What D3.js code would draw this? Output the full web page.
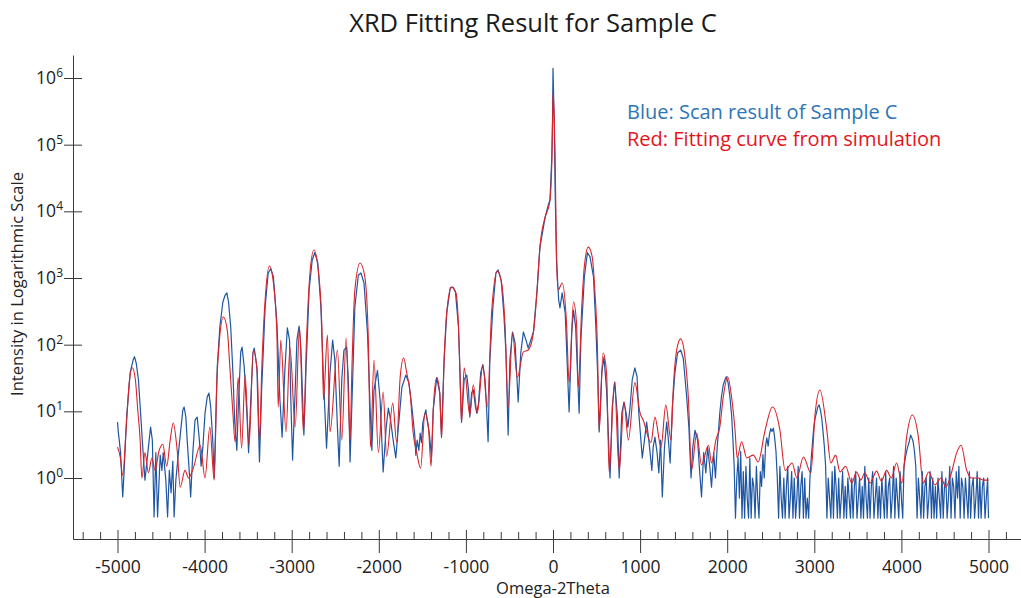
<!DOCTYPE html>
<html>
<head>
<meta charset="utf-8">
<script src="https://cdn.jsdelivr.net/npm/d3@7"></script>
<style>
  body { margin: 0; background: #fff; }
  svg { display: block; font-family: "Open Sans", "DejaVu Sans", sans-serif; }
</style>
</head>
<body>
<svg id="vis-svg"></svg>
<script>
// Texts
const titleText = "XRD Fitting Result for Sample C";
const xLabelText = "Omega-2Theta";
const yLabelText = "Intensity in Logarithmic Scale";
const legendLines = ["Blue: Scan result of Sample C", "Red: Fitting curve from simulation"];

// Tick labels
const xTicks = [-5000, -4000, -3000, -2000, -1000, 0, 1000, 2000, 3000, 4000, 5000];
const yTickExponents = [0, 1, 2, 3, 4, 5, 6];

// Red: fitting curve from simulation, [omega-2theta, intensity]
const fitCurve = [
  [-5000, 2.9], [-4970, 2.1], [-4940, 1.1], [-4900, 5.8], [-4865, 27], [-4830, 45], [-4795, 30],
  [-4770, 11.6], [-4740, 3.7], [-4720, 1.0], [-4685, 2.4], [-4645, 1.2], [-4605, 2.0], [-4570, 1.3],
  [-4525, 2.5], [-4480, 3.2], [-4435, 1.5], [-4395, 3.7], [-4360, 6.7], [-4315, 2.6], [-4280, 0.73],
  [-4225, 1.3], [-4185, 1.0], [-4130, 1.4], [-4050, 3.1], [-3995, 1.0], [-3940, 5.8], [-3890, 0.93],
  [-3860, 27], [-3830, 117], [-3785, 260], [-3740, 166], [-3710, 46], [-3675, 9.4], [-3650, 3.5],
  [-3615, 32], [-3575, 2.8], [-3535, 35], [-3490, 3.1], [-3440, 83], [-3395, 38], [-3370, 3.4],
  [-3345, 38], [-3305, 470], [-3255, 1510], [-3210, 840], [-3170, 150], [-3155, 11.6], [-3125, 117],
  [-3065, 4.9], [-3020, 92], [-2960, 5.8], [-2910, 184], [-2865, 4.7], [-2830, 117], [-2790, 1190],
  [-2745, 2630], [-2695, 1320], [-2655, 211], [-2635, 15], [-2590, 140], [-2560, 4.9], [-2475, 83],
  [-2425, 3.7], [-2375, 126], [-2330, 3.7], [-2310, 38], [-2275, 660], [-2215, 1680], [-2160, 1035],
  [-2120, 117], [-2095, 2.9], [-2055, 59], [-2005, 2.4], [-1950, 19.5], [-1910, 2.1], [-1840, 13.3],
  [-1795, 3.4], [-1755, 32], [-1715, 63], [-1680, 38], [-1640, 18.8], [-1605, 4.7], [-1565, 2.4],
  [-1520, 1.4], [-1470, 9.4], [-1430, 5.8], [-1400, 1.5], [-1375, 10.5], [-1335, 32], [-1300, 18.8],
  [-1280, 4.0], [-1250, 59], [-1220, 300], [-1165, 730], [-1115, 600], [-1085, 184], [-1070, 46],
  [-1050, 6.7], [-1020, 45], [-955, 8.8], [-915, 25], [-870, 9.4], [-805, 50], [-755, 11.6],
  [-705, 300], [-640, 1270], [-590, 840], [-550, 184], [-515, 11.6], [-465, 150], [-410, 32],
  [-340, 78], [-285, 83], [-225, 150], [-185, 600], [-150, 2900], [-90, 8200], [-40, 13300],
  [-25, 21000], [-10, 83000], [0, 596000], [15, 234000], [25, 59000], [35, 5800], [45, 1320],
  [60, 660], [105, 840], [155, 211], [185, 27], [235, 437], [270, 211], [290, 23], [330, 367],
  [360, 1510], [405, 2900], [450, 2070], [480, 660], [510, 92], [530, 5.2], [575, 75], [615, 38],
  [645, 1.2], [705, 27.5], [760, 1.3], [815, 13.8], [865, 3.7], [940, 27], [1000, 9.4], [1035, 7.4],
  [1125, 3.4], [1170, 8.2], [1240, 2.9], [1295, 12.4], [1355, 3.7], [1380, 21], [1420, 83],
  [1465, 122], [1515, 65], [1555, 15], [1590, 1.3], [1650, 4.7], [1705, 1.57], [1785, 3.1],
  [1820, 1.68], [1870, 3.7], [1915, 5.8], [1955, 16.4], [2005, 33], [2050, 16.4], [2090, 5.2],
  [2115, 2.0], [2165, 3.5], [2225, 2.0], [2300, 2.2], [2355, 1.74], [2435, 5.2], [2520, 11.6],
  [2605, 5.2], [2665, 1.3], [2745, 1.68], [2800, 1.0], [2875, 2.07], [2960, 1.19], [3010, 9.4],
  [3065, 20.9], [3140, 5.8], [3190, 1.68], [3245, 2.2], [3295, 1.23], [3360, 1.5], [3430, 0.84],
  [3485, 1.23], [3535, 0.93], [3580, 1.2], [3640, 0.84], [3715, 1.27], [3770, 0.9], [3830, 1.3],
  [3885, 1.0], [3945, 1.68], [4005, 0.84], [4060, 4.1], [4125, 8.8], [4195, 4.1], [4250, 0.84],
  [4315, 1.23], [4385, 0.79], [4455, 1.0], [4510, 0.73], [4575, 1.2], [4635, 2.4], [4685, 3.1],
  [4750, 1.3], [4805, 1.0], [4880, 1.0], [4940, 0.93], [5000, 0.93]
];

// Blue: scan result of Sample C, [omega-2theta, intensity]
const scanData = [
  [-5000, 6.9], [-4990, 4.8], [-4980, 3.7], [-4965, 2.4], [-4940, 0.52], [-4925, 1.19], [-4895, 8.2],
  [-4855, 38], [-4820, 59], [-4805, 66], [-4785, 53], [-4760, 30], [-4735, 9.4], [-4710, 2.9],
  [-4685, 0.93], [-4645, 2.9], [-4620, 5.8], [-4600, 3.7], [-4580, 0.26], [-4560, 2.4], [-4540, 0.26],
  [-4510, 2.2], [-4490, 1.3], [-4475, 2.4], [-4445, 0.93], [-4425, 0.26], [-4405, 1.3], [-4385, 0.6],
  [-4365, 1.8], [-4350, 0.26], [-4330, 0.93], [-4300, 2.4], [-4275, 5.0], [-4250, 10.5], [-4235, 11.6],
  [-4215, 8.2], [-4200, 3.7], [-4175, 1.19], [-4160, 0.52], [-4135, 2.4], [-4110, 7.4], [-4085, 8.2],
  [-4060, 3.7], [-4040, 1.5], [-4020, 2.9], [-3995, 9.4], [-3970, 16.4], [-3950, 18.8], [-3930, 11.6],
  [-3905, 3.4], [-3890, 1.0], [-3875, 4.9], [-3855, 46], [-3825, 184], [-3790, 437], [-3765, 550],
  [-3745, 600], [-3725, 437], [-3700, 184], [-3675, 38], [-3655, 7.4], [-3630, 2.6], [-3610, 14.8],
  [-3585, 78], [-3570, 92], [-3545, 46], [-3515, 9.4], [-3495, 2.4], [-3470, 14.8], [-3445, 75],
  [-3430, 89], [-3400, 46], [-3370, 1.74], [-3345, 21], [-3305, 367], [-3270, 1190], [-3240, 1370],
  [-3210, 1035], [-3170, 211], [-3135, 14.8], [-3110, 4.1], [-3080, 38], [-3050, 178], [-3025, 117],
  [-3010, 14.8], [-2990, 1.86], [-2960, 21], [-2940, 117], [-2915, 190], [-2895, 92], [-2875, 16.4],
  [-2860, 4.4], [-2835, 46], [-2800, 660], [-2765, 1850], [-2735, 2400], [-2700, 1680], [-2665, 367],
  [-2635, 30], [-2600, 2.8], [-2560, 38], [-2530, 117], [-2505, 59], [-2475, 5.8], [-2455, 1.5],
  [-2425, 30], [-2400, 83], [-2370, 92], [-2350, 30], [-2330, 1.74], [-2300, 30], [-2275, 367],
  [-2235, 1100], [-2205, 1190], [-2170, 840], [-2130, 150], [-2100, 11.6], [-2080, 2.6], [-2055, 21],
  [-2015, 41], [-1985, 14.8], [-1950, 1.23], [-1915, 5.8], [-1890, 11.2], [-1865, 7.4], [-1835, 3.7],
  [-1805, 2.0], [-1775, 5.8], [-1735, 23], [-1690, 35], [-1655, 27], [-1620, 11.6], [-1585, 4.1],
  [-1575, 2.2], [-1560, 3.7], [-1540, 2.6], [-1525, 4.7], [-1510, 3.4], [-1495, 6.7], [-1480, 8.2],
  [-1460, 10.5], [-1445, 7.4], [-1420, 4.7], [-1395, 2.07], [-1375, 10.5], [-1335, 32], [-1300, 18.8],
  [-1280, 4.1], [-1250, 59], [-1220, 300], [-1180, 710], [-1150, 730], [-1120, 620], [-1085, 184],
  [-1070, 46], [-1050, 6.9], [-1020, 30], [-990, 35], [-970, 21], [-955, 8.2], [-935, 18.8],
  [-915, 21], [-890, 11.6], [-875, 9.4], [-855, 13.3], [-830, 38], [-805, 50], [-780, 30],
  [-760, 9.4], [-745, 3.5], [-725, 59], [-690, 367], [-655, 1190], [-630, 1320], [-595, 930],
  [-565, 300], [-540, 75], [-515, 4.4], [-495, 59], [-465, 155], [-435, 105], [-400, 13.8],
  [-370, 75], [-340, 155], [-310, 117], [-285, 89], [-255, 117], [-225, 155], [-185, 600],
  [-150, 2900], [-90, 8200], [-55, 12400], [-35, 14800], [-15, 59000], [-5, 234000], [0, 1400000],
  [15, 186000], [25, 19000], [40, 1860], [65, 470], [80, 355], [105, 600], [140, 300], [185, 9.8],
  [215, 150], [235, 330], [260, 184], [300, 9.4], [320, 117], [360, 1035], [395, 2400], [425, 2070],
  [465, 1035], [490, 211], [515, 30], [530, 4.9], [560, 38], [585, 65], [615, 21], [655, 1.0],
  [680, 11.6], [710, 27.5], [740, 8.2], [760, 1.0], [790, 9.4], [815, 13.8], [840, 9.4], [860, 5.8],
  [885, 11.6], [910, 30], [940, 45], [965, 33], [985, 9.4], [1025, 2.0], [1050, 3.7], [1075, 6.9],
  [1100, 3.7], [1135, 1.3], [1150, 2.9], [1170, 4.1], [1195, 2.4], [1215, 1.19], [1235, 3.7],
  [1255, 0.52], [1280, 2.9], [1305, 6.9], [1325, 3.7], [1345, 1.68], [1370, 11.6], [1400, 38],
  [1430, 75], [1465, 83], [1495, 63], [1535, 16.4], [1560, 5.8], [1585, 1.0], [1605, 2.9],
  [1630, 5.2], [1660, 3.7], [1685, 1.19], [1705, 0.52], [1730, 2.4], [1755, 1.19], [1775, 2.9],
  [1800, 1.46], [1820, 0.73], [1845, 2.4], [1865, 1.0], [1885, 2.9], [1900, 5.0], [1915, 9.4],
  [1935, 17], [1955, 25], [1975, 30], [1990, 33], [2010, 27], [2030, 17], [2050, 9], [2065, 4],
  [2080, 1.5], [2095, 0.25], [2110, 1.0], [2125, 2.0], [2140, 0.5], [2155, 2.5], [2170, 0.25],
  [2185, 1.25], [2200, 0.25], [2215, 1.5], [2230, 0.5], [2245, 0.25], [2260, 2.0], [2275, 0.25],
  [2290, 1.0], [2305, 0.75], [2320, 0.25], [2335, 1.5], [2350, 0.5], [2365, 0.25], [2380, 1.25],
  [2395, 0.75], [2410, 2.25], [2425, 1.0], [2440, 3.0], [2455, 4.0], [2470, 3.0], [2485, 4.5],
  [2500, 5.5], [2515, 5.0], [2530, 5.6], [2545, 4.0], [2560, 2.5], [2575, 1.0], [2590, 0.25],
  [2605, 1.5], [2620, 0.5], [2635, 0.25], [2650, 1.0], [2665, 0.25], [2680, 0.75], [2695, 1.5],
  [2710, 0.25], [2725, 0.5], [2740, 1.25], [2755, 0.25], [2770, 1.0], [2785, 0.25], [2800, 0.5],
  [2815, 1.5], [2830, 0.25], [2845, 0.75], [2860, 1.25], [2875, 0.25], [2890, 1.0], [2905, 0.25],
  [2920, 0.5], [2935, 0.25], [2950, 1.0], [2965, 2.0], [2980, 3.5], [2995, 6.0], [3010, 8.0],
  [3025, 9.5], [3040, 11.6], [3055, 12.5], [3070, 10.5], [3085, 8.0], [3100, 5.0], [3115, 3.0],
  [3130, 1.5], [3145, 0.25], [3160, 1.0], [3175, 0.5], [3190, 0.25], [3205, 1.25], [3220, 0.25],
  [3235, 1.5], [3250, 0.75], [3265, 0.25], [3280, 1.0], [3295, 0.25], [3310, 0.5], [3325, 1.25],
  [3340, 0.25], [3355, 0.75], [3370, 0.25], [3385, 1.0], [3400, 0.5], [3415, 0.25], [3430, 1.0],
  [3445, 0.25], [3460, 0.75], [3475, 1.25], [3490, 0.25], [3505, 0.5], [3520, 1.0], [3535, 0.25],
  [3550, 0.75], [3565, 0.25], [3580, 1.5], [3595, 0.5], [3610, 0.25], [3625, 1.0], [3640, 0.25],
  [3655, 0.75], [3670, 1.25], [3685, 0.25], [3700, 0.5], [3715, 1.0], [3730, 0.25], [3745, 0.75],
  [3760, 0.25], [3775, 1.0], [3790, 0.5], [3805, 0.25], [3820, 1.25], [3835, 0.25], [3850, 0.75],
  [3865, 1.0], [3880, 0.25], [3895, 0.5], [3910, 1.5], [3925, 0.25], [3940, 1.0], [3955, 0.5],
  [3970, 0.25], [3985, 1.25], [4000, 0.5], [4015, 0.25], [4030, 1.5], [4045, 2.0], [4060, 2.5],
  [4075, 3.0], [4090, 3.5], [4105, 4.4], [4120, 4.0], [4135, 3.5], [4150, 2.5], [4165, 1.5],
  [4180, 0.25], [4195, 1.0], [4210, 0.5], [4225, 0.25], [4240, 1.25], [4255, 0.25], [4270, 0.75],
  [4285, 1.0], [4300, 0.25], [4315, 0.5], [4330, 1.25], [4345, 0.25], [4360, 1.0], [4375, 0.25],
  [4390, 0.75], [4405, 0.25], [4420, 1.0], [4435, 0.5], [4450, 0.25], [4465, 1.25], [4480, 0.25],
  [4495, 0.75], [4510, 1.0], [4525, 0.25], [4540, 0.5], [4555, 1.5], [4570, 0.25], [4585, 1.0],
  [4600, 0.75], [4615, 0.25], [4630, 1.25], [4645, 0.5], [4660, 1.5], [4675, 0.25], [4690, 1.0],
  [4705, 0.75], [4720, 0.25], [4735, 1.0], [4750, 0.5], [4765, 0.25], [4780, 1.25], [4795, 0.25],
  [4810, 0.75], [4825, 1.0], [4840, 0.25], [4855, 0.5], [4870, 1.25], [4885, 0.25], [4900, 1.0],
  [4915, 0.25], [4930, 0.75], [4945, 1.0], [4960, 0.25], [4975, 0.5], [4990, 1.0], [5000, 0.25]
];

function chart() {
    let width = 1021,
        height = 598,
        axisLeftX = 73,
        axisRightX = 1021,
        axisTopY = 55,
        axisBottomY = 539;

    function chart(selector) {
        const svg = d3.select(selector)
            .attr("width", width)
            .attr("height", height);

        svg.append("rect")
            .attr("width", width)
            .attr("height", height)
            .attr("fill", "#fff");

        // Set up scales (-5000..5000 and 10^0..10^6 pinned to the reference ticks, then stretched to the axis ends)
        const x = d3.scaleLinear().domain([-5000, 5000]).range([117.5, 988.5]);
        x.domain([x.invert(axisLeftX), x.invert(axisRightX)]).range([axisLeftX, axisRightX]);

        const y = d3.scaleLog().domain([1, 1e6]).range([478, 78]);
        y.domain([y.invert(axisBottomY), y.invert(axisTopY)]).range([axisBottomY, axisTopY]);

        const axisColor = "#3a3a3a";

        // Minor x ticks (above the axis)
        const minorTicks = d3.range(-5400, 5401, 200).filter(v => v % 1000 !== 0);
        svg.append("g")
            .attr("transform", "translate(0," + axisBottomY + ")")
            .call(d3.axisBottom(x).tickValues(minorTicks).tickSize(-7).tickFormat(""))
            .call(g => g.select(".domain").remove())
            .call(g => g.selectAll(".tick line").attr("stroke", axisColor));

        // Major x ticks with labels
        svg.append("g")
            .attr("transform", "translate(0," + axisBottomY + ")")
            .call(d3.axisBottom(x).tickValues(xTicks).tickSize(14).tickSizeOuter(0).tickFormat(d => String(d)))
            .call(g => g.select(".domain").attr("stroke", axisColor))
            .call(g => g.selectAll(".tick line").attr("y1", -9).attr("stroke", axisColor))
            .call(g => g.selectAll(".tick text")
                .attr("y", 34)
                .attr("dy", null)
                .attr("fill", "#222")
                .style("font-size", "17.5px")
                .style("font-family", "'Open Sans', sans-serif"));

        // y Axis
        svg.append("g")
            .attr("transform", "translate(" + axisLeftX + ",0)")
            .call(d3.axisLeft(y).tickValues(yTickExponents.map(e => Math.pow(10, e))).tickSize(9).tickSizeOuter(0).tickFormat(""))
            .call(g => g.select(".domain").attr("stroke", axisColor))
            .call(g => g.selectAll(".tick line").attr("x1", 9).attr("stroke", axisColor));

        const yLabels = svg.append("g")
            .selectAll("text")
            .data(yTickExponents)
          .enter().append("text")
            .attr("x", 63)
            .attr("y", d => y(Math.pow(10, d)) + 6)
            .attr("text-anchor", "end")
            .attr("fill", "#222")
            .style("font-size", "17.5px");

        yLabels.append("tspan").text("10");
        yLabels.append("tspan")
            .attr("dy", -7)
            .style("font-size", "12px")
            .text(d => d);

        // Curves
        const line = d3.line()
            .x(d => x(d[0]))
            .y(d => y(d[1]));

        svg.append("path")
            .datum(scanData)
            .attr("fill", "none")
            .attr("stroke", "#1f56a3")
            .attr("stroke-width", 1.2)
            .attr("stroke-linejoin", "round")
            .attr("d", line.curve(d3.curveLinear));

        svg.append("path")
            .datum(fitCurve)
            .attr("fill", "none")
            .attr("stroke", "#d8232a")
            .attr("stroke-width", 1.1)
            .attr("d", line.curve(d3.curveMonotoneX));

        // Title
        svg.append("text")
            .attr("x", 533)
            .attr("y", 32)
            .attr("text-anchor", "middle")
            .attr("fill", "#1a1a1a")
            .style("font-size", "25.5px")
            .text(titleText);

        // Legend text
        svg.append("text")
            .attr("x", 627)
            .attr("y", 119)
            .attr("fill", "#2e75b6")
            .style("font-size", "20px")
            .text(legendLines[0]);

        svg.append("text")
            .attr("x", 627)
            .attr("y", 146)
            .attr("fill", "#e3151b")
            .style("font-size", "20px")
            .text(legendLines[1]);

        // x axis label
        svg.append("text")
            .attr("x", 553)
            .attr("y", 594)
            .attr("text-anchor", "middle")
            .attr("fill", "#222")
            .style("font-size", "16.5px")
            .text(xLabelText);

        // y axis label
        svg.append("text")
            .attr("transform", "translate(23,284) rotate(-90)")
            .attr("text-anchor", "middle")
            .attr("fill", "#222")
            .style("font-size", "16.5px")
            .text(yLabelText);

        return chart;
    }

    return chart;
}

chart()("#vis-svg");
</script>
</body>
</html>
